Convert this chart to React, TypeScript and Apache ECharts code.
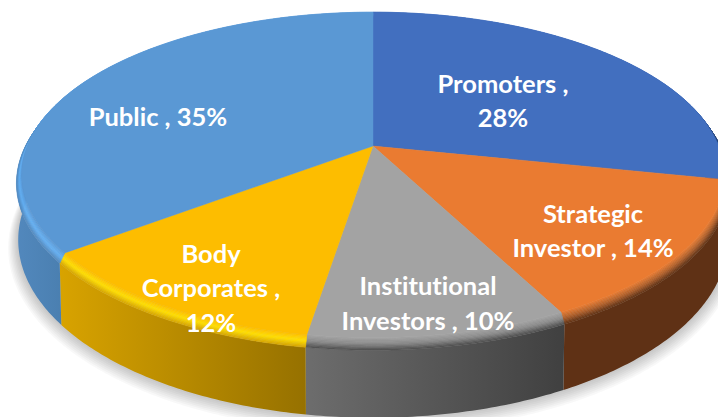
import React, { useEffect, useRef } from "react";
import * as echarts from "echarts";

const categories = ["Promoters", "Strategic Investor", "Institutional Investors", "Body Corporates", "Public"];
const shares = [28, 14, 10, 12, 35];

const labelLines = [
  ["Promoters ,", "28%"],
  ["Strategic", "Investor , 14%"],
  ["Institutional", "Investors , 10%"],
  ["Body", "Corporates ,", "12%"],
  ["Public , 35%"],
];
const labelCentres = [
  [503, 100],
  [593, 230],
  [428, 302.5],
  [211, 287],
  [158, 116],
];

const faceColours = ["#426fbf", "#ea7b31", "#a3a3a3", "#fdbd00", "#5a98d4"];
const bevelColours = [
  ["#426fbf", "#35599a", "#25406f"],
  ["#ea7b31", "#b0602a", "#5f3115"],
  ["#a3a3a3", "#8a8a8a", "#4d4d4d"],
  ["#fdbd00", "#ffdf00", "#d6a400"],
  ["#5a98d4", "#64b0f4", "#5288bd"],
];
const wallColours = [
  [[0, "#2a4a80"], [1, "#2a4a80"]],
  [[0, "#5f3115"], [1, "#5f3115"]],
  [[0, "#6d6d6d"], [1, "#404040"]],
  [[0, "#d8a300"], [1, "#967100"]],
  [[0, "#5288bd"], [0.13, "#4a7fb0"], [1, "#4a7fb0"]],
];

const total = shares.reduce((s, v) => s + v, 0);
const starts = shares.map((_, i) => shares.slice(0, i).reduce((s, v) => s + v, 0));
const CX = 373;
const K = 0.18;
const FACE_R = 0.985;
const BEVEL_Z = 0.12;

function project(theta: number, r: number, z: number): number[] {
  const a = 351 - 2 * z;
  const b = 160 + 12 * z;
  const cy = 146 + 62 * z;
  const X = r * Math.sin(theta);
  const Y = -r * Math.cos(theta);
  const w = 1 - K * Y;
  return [CX + (a * X) / w, cy + (b * Y) / w];
}

function arcPoints(t0: number, t1: number, r: number, z: number): number[][] {
  const n = Math.max(4, Math.ceil(Math.abs(t1 - t0) / 0.012));
  const pts: number[][] = [];
  for (let i = 0; i <= n; i++) pts.push(project(t0 + ((t1 - t0) * i) / n, r, z));
  return pts;
}

function hexMix(c0: string, c1: string, t: number): string {
  const p = (c: string) => [1, 3, 5].map((i) => parseInt(c.slice(i, i + 2), 16));
  const a = p(c0);
  const b = p(c1);
  return `rgb(${a.map((v, i) => Math.round(v + (b[i] - v) * t)).join(",")})`;
}

function angles(api: any): number[] {
  const v = api.value(0);
  const s = api.value(1);
  return [(s / total) * Math.PI * 2, ((s + v) / total) * Math.PI * 2];
}

const seriesData = categories.map((name, i) => ({ name, value: [shares[i], starts[i]] }));

function renderShadow() {
  const children: any[] = [];
  for (let i = 8; i >= 1; i--) {
    children.push({
      type: "polygon",
      shape: { points: arcPoints(0, Math.PI * 2, 1 + 0.0035 * i, 1 + 0.012 * i) },
      style: { fill: "rgba(0,0,0,0.028)" },
    });
  }
  return { type: "group", children };
}

function renderWall(params: any, api: any) {
  const [t0, t1] = angles(api);
  const stops = wallColours[params.dataIndex].map(([offset, color]) => ({ offset, color }));
  const pts = [...arcPoints(t0, t1, 1, BEVEL_Z), ...arcPoints(t1, t0, 1, 1)];
  return {
    type: "polygon",
    shape: { points: pts },
    style: { fill: new echarts.graphic.LinearGradient(0, 0, 1, 0, stops as any) },
  };
}

function renderTop(params: any, api: any) {
  const [t0, t1] = angles(api);
  const idx = params.dataIndex;
  const bevel = bevelColours[idx];
  const children: any[] = [];
  const BANDS = 10;
  for (let i = 0; i < BANDS; i++) {
    const f0 = i / BANDS;
    const f1 = (i + 1) / BANDS;
    const m = (f0 + f1) / 2;
    const color = m < 0.5 ? hexMix(bevel[0], bevel[1], m * 2) : hexMix(bevel[1], bevel[2], (m - 0.5) * 2);
    const r0 = FACE_R + (1 - FACE_R) * f0;
    const r1 = FACE_R + (1 - FACE_R) * f1;
    const pts = [...arcPoints(t0, t1, r0, BEVEL_Z * f0), ...arcPoints(t1, t0, r1, BEVEL_Z * f1)];
    children.push({
      type: "polygon",
      shape: { points: pts },
      style: { fill: color, stroke: color, lineWidth: 0.5 },
    });
  }
  const apex = project(0, 0, 0);
  children.push({
    type: "polygon",
    shape: { points: [apex, ...arcPoints(t0, t1, FACE_R, 0)] },
    style: { fill: faceColours[idx], stroke: faceColours[idx], lineWidth: 0.4 },
  });
  return { type: "group", children };
}

function renderLabel(params: any) {
  const i = params.dataIndex;
  return {
    type: "text",
    x: labelCentres[i][0],
    y: labelCentres[i][1],
    style: {
      text: labelLines[i].join("\n"),
      fill: "#ffffff",
      font: "700 25.5px Lato, 'Noto Sans', sans-serif",
      lineHeight: 34.5,
      align: "center",
      verticalAlign: "middle",
    },
  };
}

export default function App() {
  const ref = useRef<HTMLDivElement>(null);
  useEffect(() => {
    document.body.style.margin = "0";
    const chart = echarts.init(ref.current!, undefined, { renderer: "svg" });
    chart.setOption({
      animation: false,
      backgroundColor: "#ffffff",
      series: [
        { type: "custom", coordinateSystem: "none", silent: true, z: 1, data: [[0]], renderItem: renderShadow },
        { type: "custom", coordinateSystem: "none", silent: true, z: 2, data: seriesData, renderItem: renderWall },
        { type: "custom", coordinateSystem: "none", silent: true, z: 3, data: seriesData, renderItem: renderTop },
        { type: "custom", coordinateSystem: "none", silent: true, z: 4, data: seriesData, renderItem: renderLabel },
      ],
    });
    return () => chart.dispose();
  }, []);
  return (
    <>
      <style>{"text{font-variant-ligatures:none !important;font-feature-settings:'liga' 0,'clig' 0 !important}"}</style>
      <div ref={ref} style={{ width: 718, height: 417 }} />
    </>
  );
}
